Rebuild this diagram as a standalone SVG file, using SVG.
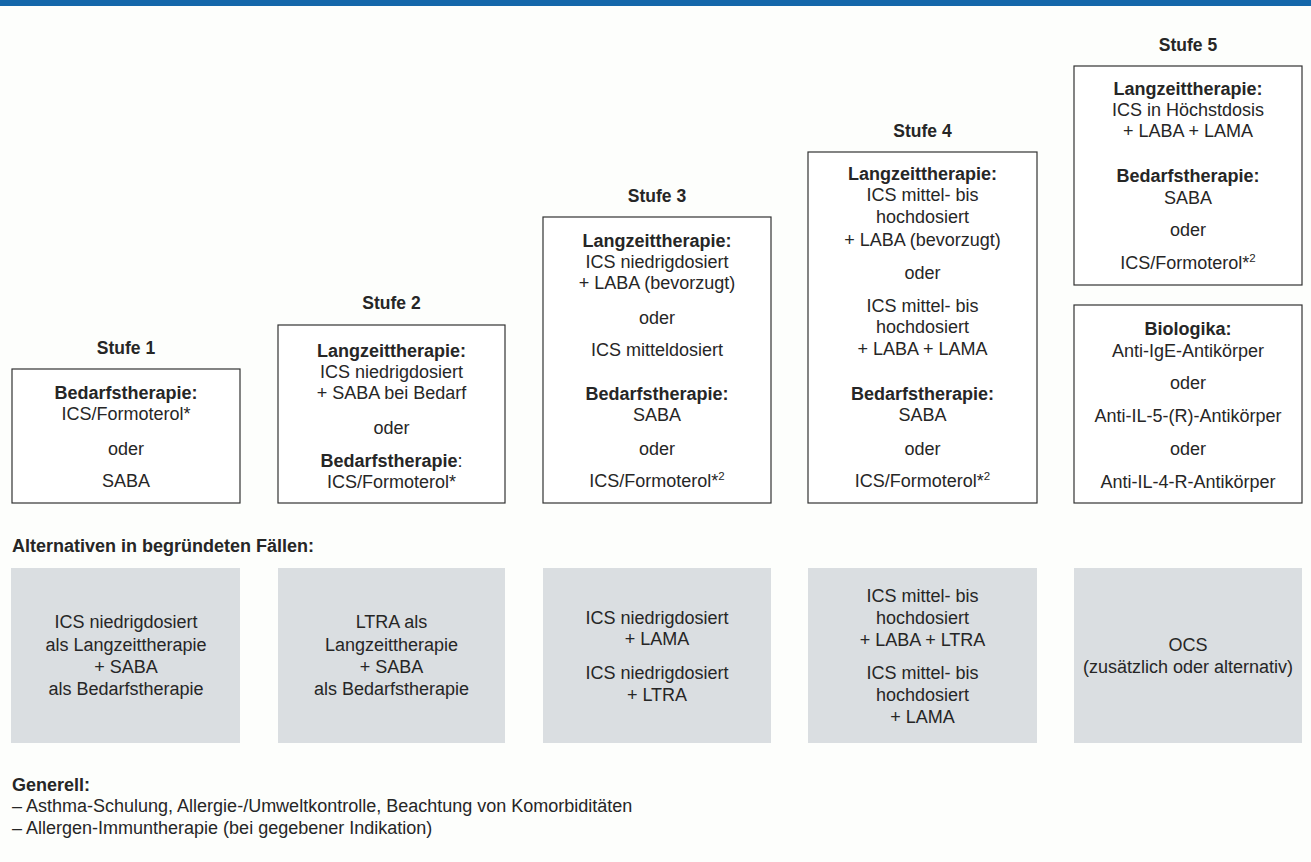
<svg xmlns="http://www.w3.org/2000/svg" width="1311" height="862" viewBox="0 0 1311 862">
<style>
text{font-family:"Liberation Sans",Arial,sans-serif;font-size:18px;fill:#262626;text-anchor:middle}
.b{font-weight:bold}
.t{font-size:17.5px}
.l{text-anchor:start}
.box{fill:#fff;stroke:#333;stroke-width:1.2}
.alt{fill:#dadee1}
.sup{font-size:11.5px}
</style>
<rect x="0" y="0" width="1311" height="862" fill="#fdfefc"/>
<rect x="0" y="0" width="1311" height="6" fill="#1467aa"/>

<g id="stufe1">
<text class="b t" x="126" y="354">Stufe 1</text>
<rect class="box" x="12" y="369" width="228" height="134"/>
<text class="b" x="126" y="399">Bedarfstherapie:</text>
<text x="126" y="420">ICS/Formoterol*</text>
<text x="126" y="455">oder</text>
<text x="126" y="487">SABA</text>
</g>

<g id="stufe2">
<text class="b t" x="391.5" y="309">Stufe 2</text>
<rect class="box" x="278" y="325" width="227" height="178"/>
<text class="b" x="391.5" y="357">Langzeittherapie:</text>
<text x="391.5" y="378">ICS niedrigdosiert</text>
<text x="391.5" y="399">+ SABA bei Bedarf</text>
<text x="391.5" y="434">oder</text>
<text x="391.5" y="467"><tspan class="b">Bedarfstherapie</tspan>:</text>
<text x="391.5" y="488">ICS/Formoterol*</text>
</g>

<g id="stufe3">
<text class="b t" x="657" y="202">Stufe 3</text>
<rect class="box" x="543" y="217" width="228" height="286"/>
<text class="b" x="657" y="247">Langzeittherapie:</text>
<text x="657" y="268">ICS niedrigdosiert</text>
<text x="657" y="289">+ LABA (bevorzugt)</text>
<text x="657" y="324">oder</text>
<text x="657" y="356">ICS mitteldosiert</text>
<text class="b" x="657" y="400">Bedarfstherapie:</text>
<text x="657" y="421">SABA</text>
<text x="657" y="455">oder</text>
<text x="657" y="487">ICS/Formoterol*<tspan class="sup" dy="-7">2</tspan></text>
</g>

<g id="stufe4">
<text class="b t" x="922.5" y="137">Stufe 4</text>
<rect class="box" x="808" y="152" width="229" height="351"/>
<text class="b" x="922.5" y="180">Langzeittherapie:</text>
<text x="922.5" y="201">ICS mittel- bis</text>
<text x="922.5" y="223">hochdosiert</text>
<text x="922.5" y="246">+ LABA (bevorzugt)</text>
<text x="922.5" y="279">oder</text>
<text x="922.5" y="312">ICS mittel- bis</text>
<text x="922.5" y="333">hochdosiert</text>
<text x="922.5" y="355">+ LABA + LAMA</text>
<text class="b" x="922.5" y="400">Bedarfstherapie:</text>
<text x="922.5" y="421">SABA</text>
<text x="922.5" y="455">oder</text>
<text x="922.5" y="487">ICS/Formoterol*<tspan class="sup" dy="-7">2</tspan></text>
</g>

<g id="stufe5">
<text class="b t" x="1188" y="51">Stufe 5</text>
<rect class="box" x="1074" y="66" width="228" height="219"/>
<text class="b" x="1188" y="95">Langzeittherapie:</text>
<text x="1188" y="116">ICS in Höchstdosis</text>
<text x="1188" y="137">+ LABA + LAMA</text>
<text class="b" x="1188" y="182">Bedarfstherapie:</text>
<text x="1188" y="204">SABA</text>
<text x="1188" y="236">oder</text>
<text x="1188" y="269">ICS/Formoterol*<tspan class="sup" dy="-7">2</tspan></text>
</g>

<g id="biologika">
<rect class="box" x="1074" y="305" width="228" height="198"/>
<text class="b" x="1188" y="335">Biologika:</text>
<text x="1188" y="357">Anti-IgE-Antikörper</text>
<text x="1188" y="389">oder</text>
<text x="1188" y="422">Anti-IL-5-(R)-Antikörper</text>
<text x="1188" y="455">oder</text>
<text x="1188" y="488">Anti-IL-4-R-Antikörper</text>
</g>

<g id="alt-heading">
<text class="b l" x="12" y="552">Alternativen in begründeten Fällen:</text>
</g>

<g id="alt1">
<rect class="alt" x="11" y="568" width="229" height="175"/>
<text x="126" y="628">ICS niedrigdosiert</text>
<text x="126" y="651">als Langzeittherapie</text>
<text x="126" y="673">+ SABA</text>
<text x="126" y="695">als Bedarfstherapie</text>
</g>

<g id="alt2">
<rect class="alt" x="278" y="568" width="227" height="175"/>
<text x="391.5" y="628">LTRA als</text>
<text x="391.5" y="651">Langzeittherapie</text>
<text x="391.5" y="673">+ SABA</text>
<text x="391.5" y="695">als Bedarfstherapie</text>
</g>

<g id="alt3">
<rect class="alt" x="543" y="568" width="228" height="175"/>
<text x="657" y="624">ICS niedrigdosiert</text>
<text x="657" y="645">+ LAMA</text>
<text x="657" y="679">ICS niedrigdosiert</text>
<text x="657" y="701">+ LTRA</text>
</g>

<g id="alt4">
<rect class="alt" x="808" y="568" width="229" height="175"/>
<text x="922.5" y="602">ICS mittel- bis</text>
<text x="922.5" y="624">hochdosiert</text>
<text x="922.5" y="646">+ LABA + LTRA</text>
<text x="922.5" y="679">ICS mittel- bis</text>
<text x="922.5" y="701">hochdosiert</text>
<text x="922.5" y="723">+ LAMA</text>
</g>

<g id="alt5">
<rect class="alt" x="1074" y="568" width="228" height="175"/>
<text x="1188" y="651">OCS</text>
<text x="1188" y="673">(zusätzlich oder alternativ)</text>
</g>

<g id="generell">
<text class="b l" x="12" y="791">Generell:</text>
<text class="l" x="12" y="812">– Asthma-Schulung, Allergie-/Umweltkontrolle, Beachtung von Komorbiditäten</text>
<text class="l" x="12" y="834">– Allergen-Immuntherapie (bei gegebener Indikation)</text>
</g>

<g id="connectors"></g>
</svg>
